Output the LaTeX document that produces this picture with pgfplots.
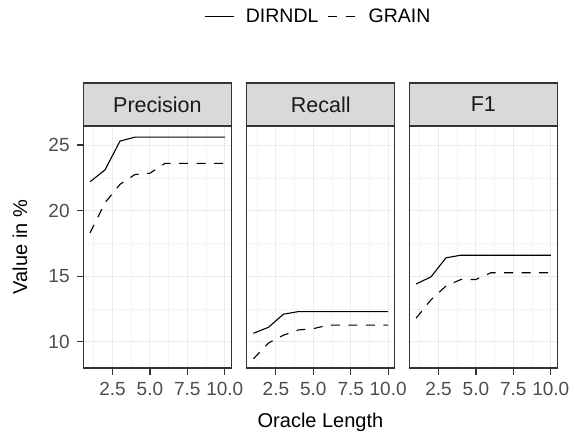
\documentclass[border=0pt]{standalone}
\usepackage{fontspec}
\setmainfont{Liberation Sans}
\usepackage{pgfplots}
\pgfplotsset{compat=1.18}
\definecolor{gridmaj}{HTML}{EBEBEB}
\definecolor{gridmin}{HTML}{F3F3F3}
\definecolor{g20}{HTML}{333333}
\definecolor{g30}{HTML}{4D4D4D}
\definecolor{stripbg}{HTML}{D9D9D9}
\tikzset{tk/.style={g20, line width=1.2pt}}

\pgfplotsset{
  panel/.style={
    scale only axis, width=148.2pt, height=242pt, anchor=south west,
    xmin=0.55, xmax=10.45, ymin=8.0, ymax=26.45,
    xtick={2.5,5,7.5,10}, xticklabels={2.5,5.0,7.5,10.0},
    minor xtick={1.25,3.75,6.25,8.75},
    ytick={10,15,20,25}, yticklabels={10,15,20,25},
    minor ytick={12.5,17.5,22.5},
    grid=both,
    major grid style={gridmaj, line width=0.9pt},
    minor grid style={gridmin, line width=0.6pt},
    axis line style={g20, line width=1pt},
    tick align=outside, tick pos=left,
    major tick length=0pt, minor tick length=0pt,
    xticklabel style={font=\fontsize{19}{22}\selectfont, text=g30, inner sep=0pt, yshift=-14pt},
    yticklabel style={font=\fontsize{19}{22}\selectfont, text=g30, inner sep=0pt, xshift=-13.5pt},
  },
  noy/.style={yticklabels={}},
  dirndl/.style={black, line width=1.1pt},
  grain/.style={black, line width=1.1pt, dash pattern=on 9pt off 8.5pt},
}

% Precision
\pgfplotstableread{
x  dirndl grain
1  22.2   18.3
2  23.1   20.6
3  25.3   22.0
4  25.6   22.75
5  25.6   22.85
6  25.6   23.6
7  25.6   23.6
8  25.6   23.6
9  25.6   23.6
10 25.6   23.6
}\precision
% Recall
\pgfplotstableread{
x  dirndl grain
1  10.65  8.7
2  11.1   9.9
3  12.1   10.5
4  12.3   10.9
5  12.3   11.0
6  12.3   11.27
7  12.3   11.27
8  12.3   11.27
9  12.3   11.27
10 12.3   11.27
}\recall
% F1
\pgfplotstableread{
x  dirndl grain
1  14.4   11.8
2  14.95  13.2
3  16.4   14.25
4  16.6   14.75
5  16.6   14.75
6  16.6   15.26
7  16.6   15.26
8  16.6   15.26
9  16.6   15.26
10 16.6   15.26
}\fone

\begin{document}
\begin{tikzpicture}
\useasboundingbox (0pt,0pt) rectangle (575pt,432pt);

\begin{axis}[panel, name=p1, at={(83.3pt,64pt)}]
  \addplot[dirndl] table[x=x, y=dirndl] {\precision};
  \addplot[grain] table[x=x, y=grain] {\precision};
\end{axis}

\begin{axis}[panel, noy, name=p2, at={(246.7pt,64pt)},
  legend columns=2,
  legend style={at={(0.485,1.4525)}, anchor=center, draw=none, fill=none,
    font=\fontsize{19.5}{22}\selectfont,
    /tikz/every odd column/.append style={column sep=9pt},
    /tikz/every even column/.append style={column sep=7pt}},
  legend image code/.code={\draw[#1] (0pt,0pt) -- (29pt,0pt);},
]
  \addplot[dirndl] table[x=x, y=dirndl] {\recall};
  \addlegendentry{DIRNDL}
  \addplot[grain] table[x=x, y=grain] {\recall};
  \addlegendentry{GRAIN}
\end{axis}

\begin{axis}[panel, noy, name=p3, at={(409.3pt,64pt)}]
  \addplot[dirndl] table[x=x, y=dirndl] {\fone};
  \addplot[grain] table[x=x, y=grain] {\fone};
\end{axis}

% panel borders, ticks and facet strips
\foreach \p/\lab in {p1/Precision, p2/Recall, p3/F1}{
  \draw[g20, line width=1.1pt] (\p.south west) rectangle (\p.north east);
  \foreach \dx in {29.19, 66.62, 104.04, 141.46}
    \draw[tk] ([xshift=\dx pt]\p.south west) -- ++(0pt,-6.5pt);
  \draw[fill=stripbg, draw=g20, line width=1.1pt] (\p.north west) rectangle ([yshift=43pt]\p.north east);
  \node[font=\fontsize{21.5}{24}\selectfont, text=black!90] at ([yshift=21.5pt]\p.north) {\lab};
}
\foreach \dy in {26.23, 91.82, 157.41, 223.0}
  \draw[tk] ([yshift=\dy pt]p1.south west) -- ++(-6.5pt,0pt);

\node[rotate=90, font=\fontsize{20}{24}\selectfont] at (20pt,185pt) {Value in \%};
\node[font=\fontsize{20}{24}\selectfont] at (320.5pt,10pt) {Oracle Length};
\end{tikzpicture}
\end{document}
